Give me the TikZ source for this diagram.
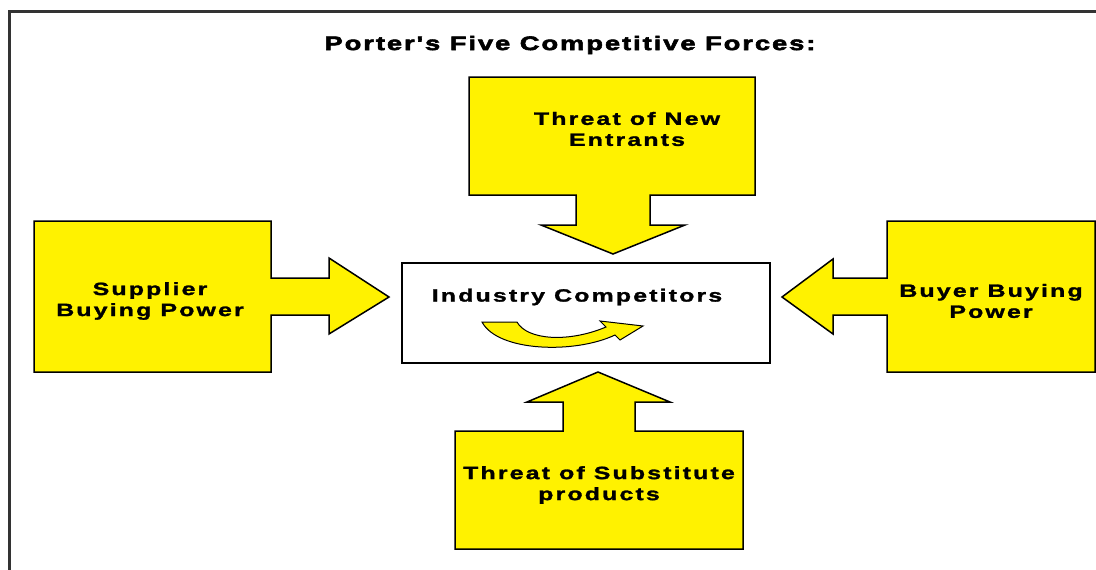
\documentclass[tikz,border=0pt]{standalone}
\usepackage{fontspec}
\newfontfamily\forcefont[FakeStretch=1.4,LetterSpace=12,BoldFeatures={FakeBold=1.5}]{Liberation Sans}
\newfontfamily\titlefont[FakeStretch=1.4,LetterSpace=10,BoldFeatures={FakeBold=3}]{Liberation Sans}
\usepackage{tikz}

\begin{document}
\begin{tikzpicture}[x=1pt, y=-1pt,
	force/.style={fill=yellow, draw=black, line width=1.5pt, line join=miter},
	forcetext/.style={align=center, inner sep=0pt, font=\forcefont\bfseries\fontsize{17.8}{21}\selectfont}]
	\useasboundingbox (0,0) rectangle (1096,570);
	% frame
	\draw[line width=3pt, black!80] (9,570) -- (9,11) -- (1096,11);
	\node[forcetext, font=\titlefont\bfseries\fontsize{19.5}{22}\selectfont] (title) at (570,45) {Porter's Five Competitive Forces:};
	% the four forces, box and arrow as one outline
	\draw[force] (469,77) -- (755,77) -- (755,195) -- (650,195) -- (650,225) -- (685,225) -- (613,254) -- (541,225) -- (576,225) -- (576,195) -- (469,195) -- cycle;
	\draw[force] (34,221) -- (271,221) -- (271,278) -- (329,278) -- (329,258) -- (389,297) -- (329,334) -- (329,315) -- (271,315) -- (271,372) -- (34,372) -- cycle;
	\draw[force] (1095,221) -- (887,221) -- (887,278) -- (833,278) -- (833,259) -- (782,297) -- (833,334) -- (833,315) -- (887,315) -- (887,372) -- (1095,372) -- cycle;
	\draw[force] (455,549) -- (743,549) -- (743,431) -- (635,431) -- (635,402) -- (670,402) -- (598,372) -- (527,402) -- (563,402) -- (563,431) -- (455,431) -- cycle;
	\node[forcetext] (entrants) at (627,129) {Threat of New\\Entrants};
	\node[forcetext] (supplier) at (150,301) {Supplier\\Buying Power};
	\node[forcetext] (buyer) at (991,301) {Buyer Buying\\Power};
	\node[forcetext] (substitutes) at (599,485) {Threat of Substitute\\products};
	% industry box with the rivalry arrow
	\node[rectangle, draw, line width=2pt, fill=white, minimum width=368pt, minimum height=100pt] (industry) at (586,313) {};
	\node[forcetext] (rivalry) at (577,297) {Industry Competitors};
	\filldraw[fill=yellow, draw=black, line width=1pt] (482,322) -- (517,322) .. controls (527,340) and (568,343) .. (606,327) -- (600,321) -- (643,326) -- (620,340) -- (615,335) .. controls (575,354) and (498,352) .. (482,322) -- cycle;
\end{tikzpicture}
\end{document}
